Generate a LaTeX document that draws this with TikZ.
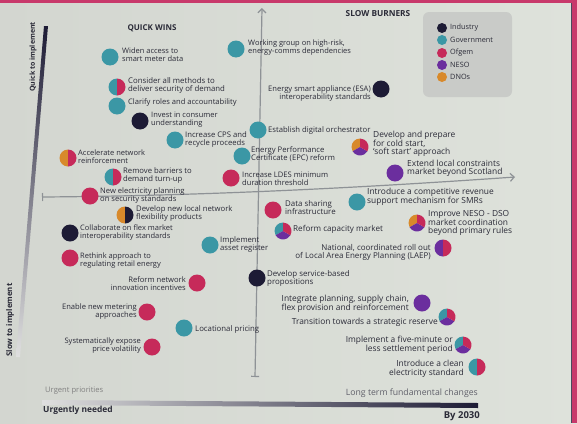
\documentclass[tikz,border=0pt]{standalone}
\usepackage{fontspec}
\setmainfont{Open Sans}
\usetikzlibrary{arrows.meta}
\definecolor{bgc}{HTML}{DEE2DB}
\definecolor{bgl}{HTML}{D3D6D0}
\definecolor{ind}{HTML}{1D1B35}
\definecolor{gov}{HTML}{3B97A5}
\definecolor{ofg}{HTML}{C62A5A}
\definecolor{neso}{HTML}{6B2E9E}
\definecolor{dno}{HTML}{D8892B}
\definecolor{txt}{HTML}{2B2B38}
\definecolor{axg}{HTML}{8E9296}
\definecolor{pinkb}{HTML}{C8396B}
\definecolor{legbg}{HTML}{C9CBC8}
\newcommand{\halfpie}[3]{%
  \fill[#2] (#1.center) -- ++(90:8.5pt) arc[start angle=90,end angle=270,radius=8.5pt] -- cycle;
  \fill[#3] (#1.center) -- ++(-90:8.5pt) arc[start angle=-90,end angle=90,radius=8.5pt] -- cycle;}
\newcommand{\tripie}[4]{%
  \fill[#2] (#1.center) -- ++(90:8.5pt) arc[start angle=90,end angle=210,radius=8.5pt] -- cycle;
  \fill[#4] (#1.center) -- ++(210:8.5pt) arc[start angle=210,end angle=330,radius=8.5pt] -- cycle;
  \fill[#3] (#1.center) -- ++(330:8.5pt) arc[start angle=330,end angle=450,radius=8.5pt] -- cycle;}
\tikzset{
  ball/.style={circle, minimum size=17pt, inner sep=0pt, fill=#1},
  pie/.style={circle, minimum size=17pt, inner sep=0pt},
  lbl/.style={font=\fontsize{#1}{8}\selectfont, text=txt, inner sep=0pt, align=left, anchor=west},
  lbl/.default=7.5,
  lblr/.style={font=\fontsize{#1}{8}\selectfont, text=txt, inner sep=0pt, align=right, anchor=east},
  lblr/.default=7.5,
  lblR/.style={font=\fontsize{8.4}{8.6}\selectfont, text=txt, inner sep=0pt, align=right, anchor=east},
  lblL/.style={font=\fontsize{8.4}{8}\selectfont, text=txt, inner sep=0pt, align=left, anchor=west},
  legdot/.style={circle, minimum size=10pt, inner sep=0pt, fill=#1},
  legtxt/.style={font=\fontsize{7.3}{8}\selectfont, text=txt, inner sep=0pt, anchor=west},
  axis/.style={draw=axg, line width=1.2pt},
}
\begin{document}
\begin{tikzpicture}[x=1pt,y=1pt]
\useasboundingbox (0,0) rectangle (577,-423);
\shade[left color=bgl, right color=bgc] (0,0) rectangle (577,-423);
\fill[pinkb] (0,0) rectangle (577,-3);
\fill[pinkb] (571,0) rectangle (577,-423);
\draw[ind!80, line width=0.8pt] (571,-3) -- (571,-423);

% left gradient bar
\shade[top color=ind, middle color=gray!70, bottom color=gray!25] (44,-26) -- (48,-26) -- (20,-357) -- (16,-357) -- cycle;
\node[font=\bfseries\fontsize{7}{8}\selectfont, text=txt, rotate=90, inner sep=0pt] (qti) at (33,-57) {Quick to implement};
\node[font=\bfseries\fontsize{7.8}{8}\selectfont, text=txt, rotate=90, inner sep=0pt] (sti) at (10,-320) {Slow to implement};

% bottom bar
\shade[left color=gray!25, right color=ind] (42,-400) -- (478,-403) -- (478,-408) -- (42,-405) -- cycle;
\node[font=\fontsize{7.6}{8}\selectfont, text=gray, anchor=west, inner sep=0pt] (up) at (45,-391) {Urgent priorities};
\node[font=\bfseries\fontsize{8.4}{9}\selectfont, text=txt, anchor=west, inner sep=0pt] (un) at (43,-410) {Urgently needed};
\node[font=\fontsize{8.7}{9}\selectfont, text=txt!75, anchor=east, inner sep=0pt] (lt) at (478,-393) {Long term fundamental changes};
\node[font=\bfseries\fontsize{9.5}{10}\selectfont, text=txt, anchor=east, inner sep=0pt] (by) at (480,-416) {By 2030};

% axes
\coordinate (vb) at (255,-377);
\coordinate (vt) at (262,-8);
\coordinate (hl) at (42,-197);
\coordinate (hr) at (515,-177);
\draw[axis, {Bar[width=8pt]}-{Straight Barb[length=4pt,width=8pt]}] (vb) -- (vt);
\draw[axis, {Bar[width=8pt]}-{Straight Barb[length=4pt,width=8pt]}] (hl) .. controls (180,-196) and (330,-190) .. (hr);

% titles
\node[font=\bfseries\fontsize{8}{9}\selectfont, text=txt, inner sep=0pt] (qw) at (152,-28) {QUICK WINS};
\node[font=\bfseries\fontsize{8.3}{9}\selectfont, text=txt, inner sep=0pt] (sb) at (378,-14) {SLOW BURNERS};

% legend
\fill[legbg, rounded corners=6pt] (423,-12) rectangle (512,-97);
\node[legdot=ind] (l1) at (442,-28) {};
\node[legtxt] (lt1) at (450,-28) {Industry};
\node[legdot=gov] (l2) at (442,-40) {};
\node[legtxt] (lt2) at (450,-40) {Government};
\node[legdot=ofg] (l3) at (442,-53) {};
\node[legtxt] (lt3) at (450,-53) {Ofgem};
\node[legdot=neso] (l4) at (442,-65) {};
\node[legtxt] (lt4) at (450,-65) {NESO};
\node[legdot=dno] (l5) at (442,-77) {};
\node[legtxt] (lt5) at (450,-77) {DNOs};

% items
\node[ball=gov] (w1) at (110,-57) {};
\node[lbl] (tw1) at (122,-55) {Widen access to\\smart meter data};
\node[ball=gov] (w2) at (236,-49) {};
\node[lbl] (tw2) at (248,-48) {Working group on high-risk,\\energy-comms dependencies};
\node[pie] (c1) at (117,-87) {}; \halfpie{c1}{gov}{ofg}
\node[lbl=7.8] (tc1) at (128,-85.5) {Consider all methods to\\deliver security of demand};
\node[ball=ind] (esa) at (381,-89) {};
\node[lblr=7.6] (tesa) at (371,-94) {Energy smart appliance (ESA)\\interoperability standards};
\node[ball=gov] (cl) at (117,-106) {};
\node[lbl=7.6] (tcl) at (128,-103) {Clarify roles and accountability};
\node[ball=ind] (inv) at (140,-121) {};
\node[lbl] (tinv) at (151,-120) {Invest in consumer\\understanding};
\node[ball=gov] (cps) at (175,-140) {};
\node[lbl=7.7] (tcps) at (185,-139) {Increase CPS and\\recycle proceeds};
\node[ball=gov] (edo) at (258,-130) {};
\node[lbl=7.7] (tedo) at (268,-130) {Establish digital orchestrator};
\node[pie] (cold) at (360,-147) {}; \tripie{cold}{dno}{ofg}{neso}
\node[lblL] (tcold) at (373,-144) {Develop and prepare\\for cold start,\\`soft start' approach};
\node[ball=gov] (epc) at (242,-156) {};
\node[lbl=7.7] (tepc) at (251,-154) {Energy Performance\\Certificate (EPC) reform};
\node[pie] (acc) at (68,-158) {}; \halfpie{acc}{dno}{ofg}
\node[lbl] (tacc) at (78,-157) {Accelerate network\\reinforcement};
\node[pie] (rem) at (113,-177) {}; \halfpie{rem}{gov}{ofg}
\node[lbl=7.7] (trem) at (123,-175.5) {Remove barriers to\\demand turn-up};
\node[ball=ofg] (ldes) at (231,-178) {};
\node[lbl=7.6] (tldes) at (242,-179) {Increase LDES minimum\\duration threshold};
\node[ball=neso] (ext) at (395,-173) {};
\node[lblL] (text) at (407,-168) {Extend local constraints\\market beyond Scotland};
\node[ball=ofg] (nep) at (90,-196) {};
\node[lbl=7.6] (tnep) at (100,-196) {New electricity planning\\on security standards};
\node[pie] (dnl) at (125,-215) {}; \halfpie{dnl}{dno}{ind}
\node[lbl=7.7] (tdnl) at (136,-213) {Develop new local network\\flexibility products};
\node[ball=ofg] (dsi) at (273,-210) {};
\node[lbl=7.9] (tdsi) at (285,-208) {Data sharing\\infrastructure};
\node[ball=gov] (smr) at (357,-202) {};
\node[lblL] (tsmr) at (367,-197) {Introduce a competitive revenue\\support mechanism for SMRs};
\node[ball=ind] (col) at (70,-233) {};
\node[lbl] (tcol) at (80,-233) {Collaborate on flex market\\interoperability standards};
\node[pie] (rcm) at (283,-231) {}; \tripie{rcm}{gov}{ofg}{neso}
\node[lbl=8.1] (trcm) at (293,-229) {Reform capacity market};
\node[pie] (ndso) at (417,-223) {}; \tripie{ndso}{dno}{ofg}{neso}
\node[lblL] (tndso) at (428,-223) {Improve NESO - DSO\\market coordination\\beyond primary rules};
\node[ball=gov] (iar) at (210,-245) {};
\node[lbl=7.7] (tiar) at (220,-244) {Implement\\asset register};
\node[pie] (laep) at (443,-248) {}; \halfpie{laep}{neso}{ofg}
\node[lblr=8] (tlaep) at (431,-252) {National, coordinated roll out\\of Local Area Energy Planning (LAEP)};
\node[ball=ofg] (ret) at (70,-258) {};
\node[lbl] (tret) at (80,-261) {Rethink approach to\\regulating retail energy};
\node[ball=ofg] (rni) at (197,-283) {};
\node[lblr=7.6] (trni) at (186,-283.5) {Reform network\\innovation incentives};
\node[ball=ind] (dsb) at (257,-278) {};
\node[lbl=7.9] (tdsb) at (267,-278.5) {Develop service-based\\propositions};
\node[ball=ofg] (enm) at (147,-312) {};
\node[lblr=7.6] (tenm) at (137,-312) {Enable new metering\\approaches};
\node[ball=gov] (loc) at (184,-328) {};
\node[lbl=7.8] (tloc) at (195,-329) {Locational pricing};
\node[ball=ofg] (sys) at (152,-347) {};
\node[lblr=7.5] (tsys) at (141,-346) {Systematically expose\\price volatility};
\node[ball=neso] (ipl) at (422,-303) {};
\node[lblR] (tipl) at (409,-304) {Integrate planning, supply chain,\\flex provision and reinforcement};
\node[pie] (str) at (447,-317) {}; \tripie{str}{gov}{ofg}{neso}
\node[lblR] (tstr) at (438,-322) {Transition towards a strategic reserve};
\node[pie] (fm) at (463,-345) {}; \tripie{fm}{gov}{ofg}{neso}
\node[lblR] (tfm) at (453,-344.5) {Implement a five-minute or\\less settlement period};
\node[pie] (ces) at (477,-367) {}; \halfpie{ces}{gov}{ofg}
\node[lblR] (tces) at (464,-369) {Introduce a clean\\electricity standard};
\end{tikzpicture}
\end{document}
